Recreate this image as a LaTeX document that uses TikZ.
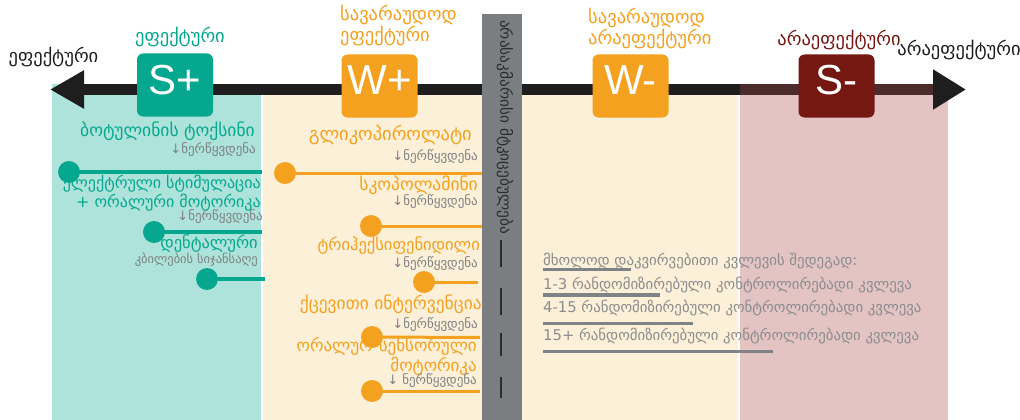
\documentclass[tikz,border=0pt]{standalone}
\usepackage{fontspec}
\setmainfont{DejaVu Sans}
\newfontfamily\gradefont{Liberation Sans}
\usetikzlibrary{arrows.meta}

\definecolor{tealD}{HTML}{05A88F}
\definecolor{tealL}{HTML}{ADE3DA}
\definecolor{creamL}{HTML}{FDF0D8}
\definecolor{pinkL}{HTML}{E3C4C3}
\definecolor{orangeD}{HTML}{F4A11F}
\definecolor{redD}{HTML}{761812}
\definecolor{barGray}{HTML}{7A7E81}
\definecolor{axisBlack}{HTML}{1E1E1E}
\definecolor{axisBrown}{HTML}{4B2C2A}
\definecolor{noteGray}{HTML}{7E8184}
\definecolor{legendGray}{HTML}{8A8C8E}
\definecolor{ruleGray}{HTML}{808386}
\definecolor{barText}{HTML}{2A2C2E}

\tikzset{
  fs/.style={font=\fontsize{#1}{#1}\selectfont},
  grade/.style={rounded corners=6pt, minimum width=76pt, minimum height=63pt, inner sep=0},
  gradetext/.style={text=white, font=\gradefont\fontsize{42}{42}\selectfont, inner sep=0, anchor=base},
  head/.style={inner sep=0, fs=18.5},
  item/.style={inner sep=0, anchor=east, fs=17.5},
  note/.style={inner sep=0, anchor=east, fs=13, text=noteGray},
  dot/.style={circle, minimum size=22pt, inner sep=0},
  legend/.style={inner sep=0, anchor=west, fs=14.8, text=legendGray},
}

\begin{document}
\begin{tikzpicture}[x=1pt,y=-1pt]
\useasboundingbox (0,0) rectangle (1020,420);
\fill[white] (0,0) rectangle (1020,420);

% evidence zones
\fill[tealL] (52,84) rectangle (262,420);
\fill[creamL] (262,84) rectangle (740,420);
\fill[pinkL] (740,84) rectangle (948,420);
\draw[white, line width=1.5pt] (262,84) -- (262,420);
\draw[white, line width=1.5pt] (739,84) -- (739,420);

% axis: effective <-> ineffective
\coordinate (axL) at (50,89.5);
\coordinate (axR) at (966,89.5);
\draw[axisBlack, line width=11pt, {Triangle[length=34pt,width=36pt]}-{Triangle[length=33pt,width=38pt]}] (axL) -- (axR);
\coordinate (brA) at (740,89.5);
\coordinate (brB) at (933,89.5);
\draw[axisBrown, line width=11pt] (brA) -- (brB);

% axis end labels
\node[head, text=axisBlack] (effL) at (53.5,57) {ეფექტური};
\node[head, text=axisBlack] (ineffR) at (959,49.5) {არაეფექტური};

% grade boxes
\node[grade, fill=tealD] (sp) at (175,85) {};
\node[gradetext] (spt) at (175,94) {S+};
\node[grade, fill=orangeD] (wp) at (379.5,86) {};
\node[gradetext] (wpt) at (379.5,94) {W+};
\node[grade, fill=orangeD] (wm) at (630.5,86) {};
\node[gradetext] (wmt) at (630.5,94) {W-};
\node[grade, fill=redD] (sm) at (836.5,86) {};
\node[gradetext] (smt) at (836.5,94) {S-};

% grade captions
\node[head, text=tealD] (capS) at (180,36.5) {ეფექტური};
\node[head, text=orangeD, anchor=west, align=left, font=\fontsize{18.5}{18.5}\selectfont] (capWp) at (340,25.75) {სავარაუდოდ\\ეფექტური};
\node[head, text=orangeD, anchor=west, align=left, font=\fontsize{18.5}{21.5}\selectfont] (capWm) at (588,28.25) {სავარაუდოდ\\არაეფექტური};
\node[head, text=redD] (capSm) at (839,39.5) {არაეფექტური};

% strong-for interventions
\node[item, text=tealD] (botox) at (255,131) {ბოტულინის ტოქსინი};
\node[note] (n1) at (256,150) {↓ნერწყვდენა};
\node[item, text=tealD, align=right, font=\fontsize{16}{19}\selectfont] (estim) at (261,193) {ელექტრული სტიმულაცია\\+ ორალური მოტორიკა};
\node[note] (n2) at (263,216.5) {↓ნერწყვდენა};
\node[item, text=tealD, fs=16.5] (dent) at (258,243.5) {დენტალური};
\node[note, fs=12.5] (teeth) at (258,259.5) {კბილების სიჯანსაღე};

\node[dot, fill=tealD] (d1) at (69,172) {};
\coordinate (e1) at (262,172);
\draw[tealD, line width=4pt] (d1.center) -- (e1);
\node[dot, fill=tealD] (d2) at (154,232) {};
\coordinate (e2) at (262,232);
\draw[tealD, line width=4pt] (d2.center) -- (e2);
\node[dot, fill=tealD] (d3) at (207,279) {};
\coordinate (e3) at (265,279);
\draw[tealD, line width=3.5pt] (d3.center) -- (e3);

% weak-for interventions
\node[item, text=orangeD, fs=18.5] (glyco) at (472,135) {გლიკოპიროლატი};
\node[note] (n3) at (478,157) {↓ნერწყვდენა};
\node[item, text=orangeD] (scop) at (478,185.5) {სკოპოლამინი};
\node[note] (n4) at (478,202) {↓ნერწყვდენა};
\node[item, text=orangeD, fs=16.5] (trihex) at (480,245.5) {ტრიჰექსიფენიდილი};
\node[note] (n5) at (478,263.5) {↓ნერწყვდენა};
\node[item, text=orangeD] (behav) at (482,304.5) {ქცევითი ინტერვენცია};
\node[note] (n6) at (478,325) {↓ნერწყვდენა};
\node[item, text=orangeD, align=right, font=\fontsize{17}{15.5}\selectfont] (oralsm) at (477,356.5) {ორალურ-სენსორული\\მოტორიკა};
\node[note] (n7) at (477,381) {↓ ნერწყვდენა};

\node[dot, fill=orangeD] (o1) at (285,173) {};
\coordinate (f1) at (482,173);
\draw[orangeD, line width=3pt] (o1.center) -- (f1);
\node[dot, fill=orangeD] (o2) at (371,226) {};
\coordinate (f2) at (482,226);
\draw[orangeD, line width=3pt] (o2.center) -- (f2);
\node[dot, fill=orangeD] (o3) at (424,282) {};
\coordinate (f3) at (478,282);
\draw[orangeD, line width=3pt] (o3.center) -- (f3);
\node[dot, fill=orangeD] (o4) at (372,337) {};
\coordinate (f4) at (480,337.5);
\draw[orangeD, line width=3pt] (o4.center) -- (f4);
\node[dot, fill=orangeD] (o5) at (372,391) {};
\coordinate (f5) at (480,391);
\draw[orangeD, line width=3pt] (o5.center) -- (f5);

% insufficient-evidence bar
\fill[barGray] (482,14) rectangle (522,420);
\node[rotate=-90, anchor=west, inner sep=0, fs=15.3, text=barText] (bartext) at (505,20) {არასაკმარისი მტკიცებულება};
\foreach \a/\b in {240/267, 288/315, 333/356, 377/398}
  \draw[barText, line width=1.5pt] (501,\a) -- (501,\b);

% legend
\node[legend] (lg0) at (543,261.5) {მხოლოდ დაკვირვებითი კვლევის შედეგად:};
\node[legend] (lg1) at (543,285) {1-3 რანდომიზირებული კონტროლირებადი კვლევა};
\node[legend] (lg2) at (543,308) {4-15 რანდომიზირებული კონტროლირებადი კვლევა};
\node[legend] (lg3) at (543,336.5) {15+ რანდომიზირებული კონტროლირებადი კვლევა};
\coordinate (r0a) at (543,269.5); \coordinate (r0b) at (631,269.5);
\coordinate (r1a) at (543,295);   \coordinate (r1b) at (660,295);
\coordinate (r2a) at (543,323.5); \coordinate (r2b) at (693,323.5);
\coordinate (r3a) at (543,351.5); \coordinate (r3b) at (773,351.5);
\draw[ruleGray, line width=2.5pt] (r0a) -- (r0b);
\draw[ruleGray, line width=3.5pt] (r1a) -- (r1b);
\draw[ruleGray, line width=3pt] (r2a) -- (r2b);
\draw[ruleGray, line width=3.5pt] (r3a) -- (r3b);
\end{tikzpicture}
\end{document}
